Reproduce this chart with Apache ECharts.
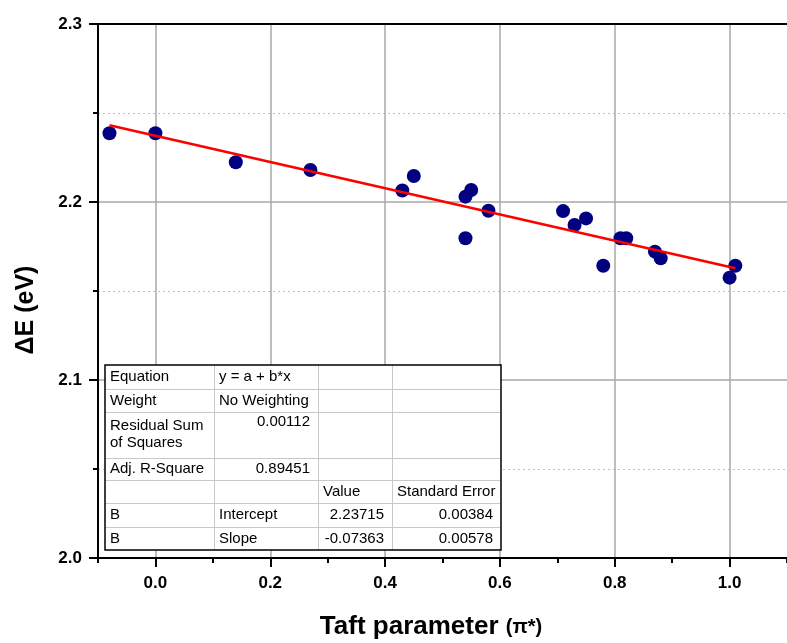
<!DOCTYPE html>
<html><head><meta charset="utf-8">
<script src="https://cdn.jsdelivr.net/npm/echarts@6/dist/echarts.min.js"></script>
<style>html,body{margin:0;padding:0;background:#fff}#c{width:787px;height:643px}</style>
</head><body><div id="c"></div>
<script>
// ---- data ----
const xValues = [-0.08, 0.00, 0.14, 0.27, 0.43, 0.45, 0.54, 0.55, 0.58, 0.54, 0.71, 0.73, 0.75, 0.78, 0.81, 0.82, 0.87, 0.88, 1.01, 1.00];
const yValues = [2.2386, 2.2386, 2.2223, 2.2180, 2.2065, 2.2146, 2.2030, 2.2067, 2.1951, 2.1796, 2.1949, 2.1871, 2.1908, 2.1642, 2.1796, 2.1796, 2.1721, 2.1684, 2.1642, 2.1575];
const fitX = [-0.08, 1.01];
const fitY = [2.2431, 2.1628];
const xTickValues = [0.0, 0.2, 0.4, 0.6, 0.8, 1.0];
const yTickValues = [2.0, 2.1, 2.2, 2.3];
const xTitle = 'Taft parameter ';
const xTitleSym = '(π*)';
const yTitle = 'ΔE (eV)';
const tableRows = [
  ['Equation', 'y = a + b*x', '', ''],
  ['Weight', 'No Weighting', '', ''],
  ['Residual Sum\nof Squares', '0.00112', '', ''],
  ['Adj. R-Square', '0.89451', '', ''],
  ['', '', 'Value', 'Standard Error'],
  ['B', 'Intercept', '2.23715', '0.00384'],
  ['B', 'Slope', '-0.07363', '0.00578']
];

// ---- table layout ----
const colX = [105, 214, 318, 392, 501];
const rowY = [365, 389, 412, 458, 480, 503, 527, 550];
const FONT = '"Liberation Sans", Arial, sans-serif';

const graphics = [];
graphics.push({type:'rect', z:100, shape:{x:colX[0], y:rowY[0], width:colX[4]-colX[0], height:rowY[7]-rowY[0]},
  style:{fill:'#fff', stroke:'none'}});
for (let i = 1; i < rowY.length - 1; i++) {
  graphics.push({type:'line', z:101, shape:{x1:colX[0], y1:rowY[i]+0.5, x2:colX[4], y2:rowY[i]+0.5},
    style:{stroke:'#c8c8c8', lineWidth:1}});
}
for (let j = 1; j < colX.length - 1; j++) {
  graphics.push({type:'line', z:101, shape:{x1:colX[j]+0.5, y1:rowY[0], x2:colX[j]+0.5, y2:rowY[7]},
    style:{stroke:'#c8c8c8', lineWidth:1}});
}
graphics.push({type:'rect', z:102, shape:{x:colX[0], y:rowY[0], width:colX[4]-colX[0], height:rowY[7]-rowY[0]},
  style:{fill:'none', stroke:'#000', lineWidth:1.5}});
tableRows.forEach((row, r) => {
  row.forEach((txt, c) => {
    if (!txt) return;
    const numeric = /^-?[0-9.]+$/.test(txt);
    const multi = txt.indexOf('\n') >= 0;
    const y0 = rowY[r], y1 = rowY[r+1];
    let ty, va;
    if (multi) { ty = y0 + 5; va = 'top'; }
    else if (y1 - y0 > 30) { ty = y0 + 10; va = 'middle'; }
    else { ty = (y0 + y1) / 2; va = 'middle'; }
    graphics.push({type:'text', z:103,
      x: numeric ? colX[c+1] - 8 : colX[c] + 5, y: ty,
      style:{text: txt, font: '15px ' + FONT, fill:'#000', align: numeric ? 'right' : 'left',
        verticalAlign: va, lineHeight: 17}});
  });
});
// axis titles
graphics.push({type:'text', z:50, x:26, y:310, rotation: Math.PI/2,
  style:{text: yTitle, font:'bold 25px ' + FONT, fill:'#000', align:'center', verticalAlign:'middle'}});
graphics.push({type:'text', z:50, x:431, y:627,
  style:{text: '{a|' + xTitle + '}{b|' + xTitleSym + '}', align:'center', verticalAlign:'middle',
    rich:{a:{font:'bold 26px ' + FONT, fill:'#000'}, b:{font:'bold 20px ' + FONT, fill:'#000'}}}});

const chart = echarts.init(document.getElementById('c'), null, {renderer:'canvas'});
const lblStyle = {color:'#000', fontWeight:'bold', fontSize:17, fontFamily: FONT};
chart.setOption({
  animation:false,
  backgroundColor:'#fff',
  grid:{left:98, top:24, right:-6, bottom:85, containLabel:false},
  xAxis:[
    {type:'value', min:-0.1, max:1.1, interval:0.1, position:'bottom',
      axisLine:{show:true, onZero:false, lineStyle:{color:'#000', width:2}},
      axisTick:{show:true, length:5, lineStyle:{color:'#000', width:2}},
      axisLabel:{show:false}, splitLine:{show:false}},
    {type:'value', min:-0.1, max:1.1, position:'bottom',
      axisLine:{show:false, onZero:false},
      axisTick:{show:true, customValues:xTickValues, length:9, lineStyle:{color:'#000', width:2}},
      axisLabel:Object.assign({show:true, customValues:xTickValues, margin:17,
        formatter: v => Number(v).toFixed(1)}, lblStyle),
      splitLine:{show:true, lineStyle:{color:'#a8a8a8', width:1.5}}},
    {type:'value', min:-0.1, max:1.1, position:'top',
      axisLine:{show:true, onZero:false, lineStyle:{color:'#000', width:2}},
      axisTick:{show:false}, axisLabel:{show:false}, splitLine:{show:false}}
  ],
  yAxis:[{type:'value', min:2.0, max:2.3, interval:0.1, position:'left',
    axisLine:{show:true, onZero:false, lineStyle:{color:'#000', width:2}},
    axisTick:{show:true, length:9, lineStyle:{color:'#000', width:2}},
    minorTick:{show:true, splitNumber:2, length:5, lineStyle:{color:'#000', width:2}},
    axisLabel:Object.assign({margin:16, formatter: v => Number(v).toFixed(1)}, lblStyle),
    splitLine:{show:true, lineStyle:{color:'#a8a8a8', width:1.5}},
    minorSplitLine:{show:true, lineStyle:{color:'#c0c0c0', width:1, type:[2,3]}}
  }],
  series:[
    {type:'scatter', xAxisIndex:0, yAxisIndex:0, symbol:'circle', symbolSize:14,
      itemStyle:{color:'#000080', opacity:1}, z:3,
      data: xValues.map((x, i) => [x, yValues[i]])},
    {type:'line', xAxisIndex:0, yAxisIndex:0, showSymbol:false, symbol:'none', z:4,
      lineStyle:{color:'#ff0000', width:2.6},
      data: fitX.map((x, i) => [x, fitY[i]])}
  ],
  graphic: graphics
});
</script></body></html>
